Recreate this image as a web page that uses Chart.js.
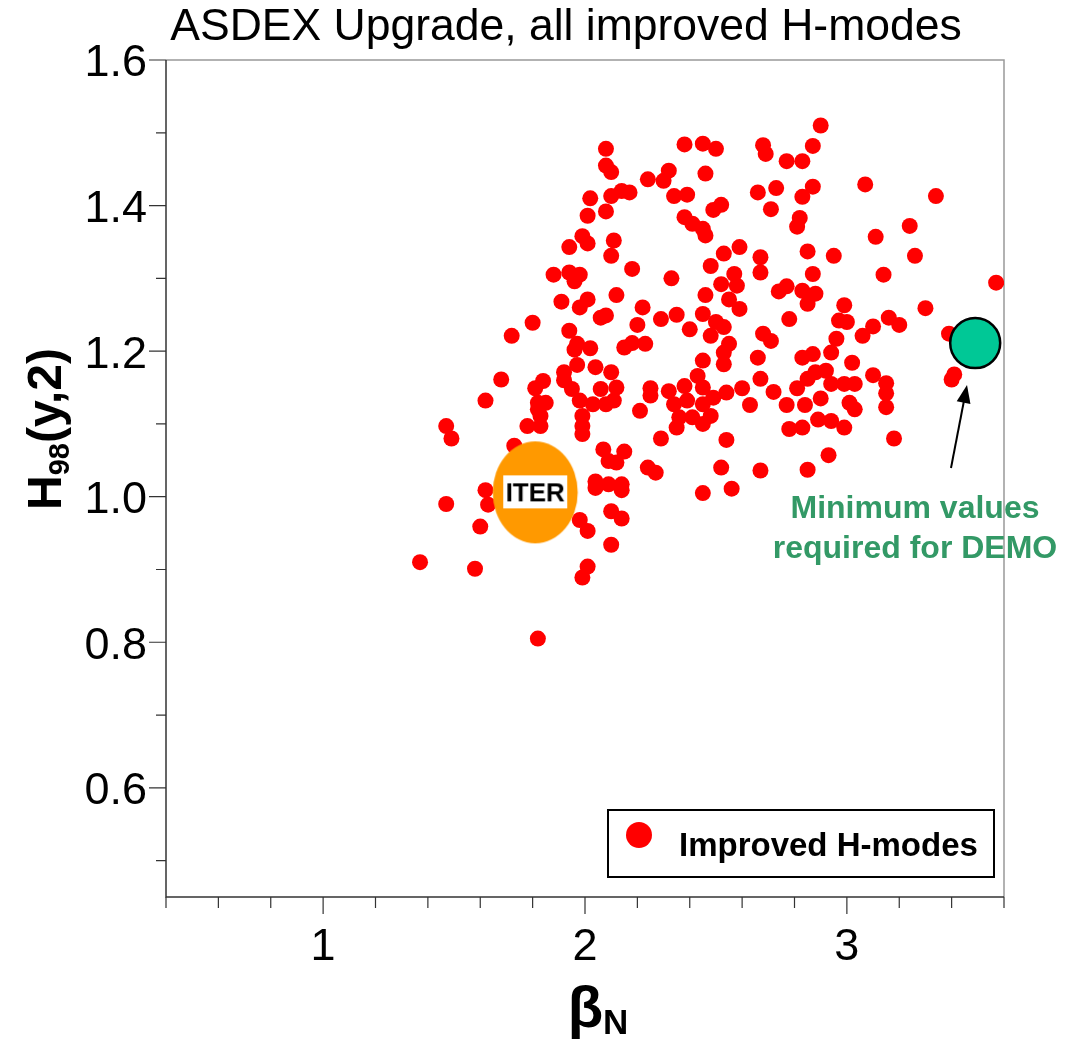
<!DOCTYPE HTML>
<html>
<head>
    <meta charset="utf-8">
    <title>ASDEX Upgrade, all improved H-modes</title>
    <script src="https://cdn.jsdelivr.net/npm/chart.js"></script>
    <style>
        body { margin: 0; background: #fff; }
        canvas { display: block; }
    </style>
</head>
<body>
    <canvas id="chart" width="1066" height="1043"></canvas>
    <script>
        // improved H-mode discharges
        const betaN = [
            1.80, 1.72, 1.68, 1.81, 1.62, 1.82, 1.82, 1.78, 1.83, 1.47,
            1.49, 1.73, 1.62, 1.63, 1.47, 1.60, 1.37, 1.58, 1.82, 1.83,
            2.06, 2.08, 2.20, 2.29, 2.35, 2.40, 1.94, 1.97, 2.02, 1.96,
            2.15, 2.18, 2.23, 1.97, 2.04, 2.10, 1.92, 1.92, 1.84, 1.95,
            2.06, 2.12, 2.25, 2.25, 2.32, 2.38, 2.43, 1.85, 1.98, 2.03,
            2.08, 2.11, 2.21, 2.34, 2.39, 2.45, 1.99, 2.36, 2.41, 1.99,
            2.35, 1.99, 2.29, 2.07, 2.15, 2.09, 2.12, 2.24, 2.27, 2.04,
            2.04, 2.09, 2.14, 2.14, 2.10, 2.14, 1.98, 2.01, 2.10, 2.01,
            1.99, 2.08, 2.08, 2.10, 2.38, 2.32, 2.30, 2.24, 2.02, 2.10,
            2.14, 2.17, 2.34, 2.39, 2.08, 2.01, 2.38, 2.41, 1.99, 2.01,
            1.94, 2.11, 2.10, 2.18, 1.88, 1.94, 1.98, 1.96, 2.33, 2.12,
            1.91, 2.01, 1.98, 2.22, 2.45, 2.50, 2.90, 2.68, 2.69, 2.77,
            2.83, 2.87, 2.46, 2.66, 2.73, 2.87, 2.83, 2.71, 2.52, 2.49,
            2.82, 2.81, 2.45, 2.46, 2.59, 2.53, 2.48, 2.67, 2.67, 2.85,
            2.95, 2.87, 2.57, 2.58, 2.52, 2.46, 2.55, 2.74, 2.77, 2.83,
            2.88, 2.85, 2.99, 2.59, 2.45, 2.50, 2.53, 2.48, 2.55, 2.53,
            2.53, 2.45, 2.78, 2.97, 3.00, 2.68, 2.71, 2.96, 2.94, 2.66,
            2.83, 2.87, 3.02, 2.67, 2.88, 2.92, 2.85, 2.45, 2.49, 2.54,
            2.60, 2.72, 2.81, 2.94, 2.99, 3.03, 2.63, 2.77, 2.84, 2.90,
            3.01, 3.03, 2.48, 2.45, 2.89, 2.94, 2.99, 2.78, 2.83, 2.54,
            2.93, 2.52, 2.67, 2.85, 2.56, 2.45, 3.07, 3.34, 3.24, 3.11,
            3.26, 3.14, 3.57, 3.30, 3.16, 3.20, 3.10, 3.06, 3.39, 3.10,
            3.15, 3.15, 3.15, 3.41, 3.40, 3.18
        ];
        const h98 = [
            1.239, 1.221, 1.161, 1.149, 1.132, 1.129, 1.120, 1.097, 1.097, 1.097,
            1.080, 1.070, 1.009, 0.989, 0.990, 0.959, 0.910, 0.901, 0.805, 1.111,
            1.246, 1.249, 1.236, 1.244, 1.250, 1.230, 1.228, 1.210, 1.204, 1.202,
            1.205, 1.211, 1.210, 1.181, 1.178, 1.171, 1.171, 1.160, 1.159, 1.148,
            1.148, 1.150, 1.149, 1.139, 1.145, 1.152, 1.166, 1.129, 1.132, 1.127,
            1.127, 1.132, 1.118, 1.127, 1.132, 1.127, 1.111, 1.109, 1.109, 1.097,
            1.095, 1.086, 1.080, 1.065, 1.062, 1.049, 1.047, 1.040, 1.033, 1.021,
            1.012, 1.017, 1.017, 1.009, 0.980, 0.970, 0.968, 0.953, 0.934, 0.904,
            0.889, 1.478, 1.455, 1.446, 1.484, 1.448, 1.434, 1.436, 1.410, 1.413,
            1.420, 1.418, 1.413, 1.415, 1.392, 1.386, 1.384, 1.375, 1.358, 1.348,
            1.343, 1.352, 1.331, 1.313, 1.305, 1.308, 1.305, 1.296, 1.300, 1.277,
            1.268, 1.271, 1.260, 1.260, 1.485, 1.478, 1.510, 1.483, 1.471, 1.461,
            1.461, 1.482, 1.444, 1.418, 1.424, 1.426, 1.412, 1.395, 1.401, 1.394,
            1.383, 1.371, 1.368, 1.359, 1.343, 1.334, 1.317, 1.329, 1.308, 1.337,
            1.331, 1.306, 1.306, 1.290, 1.292, 1.277, 1.271, 1.282, 1.289, 1.283,
            1.279, 1.265, 1.263, 1.258, 1.251, 1.240, 1.233, 1.221, 1.210, 1.198,
            1.182, 1.187, 1.244, 1.242, 1.240, 1.224, 1.214, 1.217, 1.198, 1.191,
            1.191, 1.196, 1.184, 1.162, 1.171, 1.173, 1.162, 1.150, 1.136, 1.143,
            1.149, 1.144, 1.149, 1.155, 1.155, 1.155, 1.126, 1.126, 1.126, 1.135,
            1.129, 1.120, 1.111, 1.100, 1.106, 1.104, 1.095, 1.093, 1.095, 1.078,
            1.057, 1.040, 1.036, 1.037, 1.011, 1.005, 1.429, 1.413, 1.372, 1.357,
            1.331, 1.305, 1.294, 1.259, 1.246, 1.236, 1.234, 1.221, 1.224, 1.167,
            1.156, 1.142, 1.123, 1.168, 1.161, 1.080
        ];
        const iterPoint = { x: 1.81, y: 1.006 };
        const demoPoint = { x: 3.49, y: 1.211 };
        const xTickLabels = [1, 2, 3];
        const yTickLabels = [0.6, 0.8, 1.0, 1.2, 1.4, 1.6];

        const FONT = '"Liberation Sans", Arial, Helvetica, sans-serif';

        // orange ITER ellipse with its boxed label, used as a point style
        const iterMark = document.createElement('canvas');
        iterMark.width = 88;
        iterMark.height = 104;
        (() => {
            const c = iterMark.getContext('2d');
            c.fillStyle = '#ff9900';
            c.beginPath();
            c.ellipse(44, 52, 42.5, 51, 0, 0, Math.PI * 2);
            c.fill();
            c.fillStyle = '#fff';
            c.fillRect(12, 35, 64, 33);
            c.fillStyle = '#000';
            c.font = 'bold 26px ' + FONT;
            c.textAlign = 'center';
            c.textBaseline = 'alphabetic';
            c.fillText('ITER', 44, 61);
        })();

        const decorations = {
            id: 'decorations',
            beforeDatasetsDraw(chart) {
                const { ctx, chartArea: a, scales } = chart;
                ctx.save();
                ctx.lineWidth = 1.5;
                ctx.strokeStyle = '#999';
                ctx.beginPath();
                ctx.moveTo(a.left, a.top);
                ctx.lineTo(a.right, a.top);
                ctx.lineTo(a.right, a.bottom);
                ctx.stroke();
                ctx.strokeStyle = '#333';
                ctx.beginPath();
                ctx.moveTo(a.left, a.top);
                ctx.lineTo(a.left, a.bottom);
                ctx.lineTo(a.right, a.bottom);
                ctx.stroke();

                ctx.lineWidth = 1.2;
                ctx.beginPath();
                for (let i = 5; i <= 16; i++) {
                    const y = scales.y.getPixelForValue(i / 10);
                    const len = i % 2 === 0 ? 17 : 10;
                    ctx.moveTo(a.left, y);
                    ctx.lineTo(a.left - len, y);
                }
                for (let i = 2; i <= 18; i++) {
                    const x = scales.x.getPixelForValue(i / 5);
                    const len = i % 5 === 0 ? 17 : 11;
                    ctx.moveTo(x, a.bottom);
                    ctx.lineTo(x, a.bottom + len);
                }
                ctx.stroke();
                ctx.restore();
            },
            afterDraw(chart) {
                const { ctx } = chart;
                ctx.save();
                ctx.fillStyle = '#000';
                ctx.textBaseline = 'alphabetic';

                // title
                ctx.font = '44.5px ' + FONT;
                ctx.textAlign = 'center';
                ctx.fillText('ASDEX Upgrade, all improved H-modes', 566, 40);

                // y axis title: H98(y,2)
                ctx.save();
                ctx.translate(61, 429);
                ctx.rotate(-Math.PI / 2);
                ctx.textAlign = 'left';
                const parts = [['H', 'bold 48px ', 0], ['98', 'bold 29px ', 8], ['(y,2)', 'bold 48px ', 0]];
                let w = 0;
                parts.forEach(p => { ctx.font = p[1] + FONT; w += ctx.measureText(p[0]).width; });
                let x = -w / 2;
                parts.forEach(p => {
                    ctx.font = p[1] + FONT;
                    ctx.fillText(p[0], x, p[2]);
                    x += ctx.measureText(p[0]).width;
                });
                ctx.restore();

                // x axis title: beta_N
                ctx.textAlign = 'left';
                ctx.font = 'bold 58px ' + FONT;
                const bw = ctx.measureText('\u03b2').width;
                ctx.font = 'bold 35px ' + FONT;
                const nw = ctx.measureText('N').width;
                const bx = 598 - (bw + nw) / 2;
                ctx.font = 'bold 58px ' + FONT;
                ctx.fillText('\u03b2', bx, 1027);
                ctx.font = 'bold 35px ' + FONT;
                ctx.fillText('N', bx + bw, 1034);

                // DEMO note and arrow
                ctx.fillStyle = '#339966';
                ctx.font = 'bold 32px ' + FONT;
                ctx.textAlign = 'center';
                ctx.fillText('Minimum values', 915, 518);
                ctx.fillText('required for DEMO', 915, 558);

                ctx.strokeStyle = '#000';
                ctx.fillStyle = '#000';
                ctx.lineWidth = 2;
                const tail = [951, 468], tip = [967, 385];
                const ang = Math.atan2(tip[1] - tail[1], tip[0] - tail[0]);
                ctx.beginPath();
                ctx.moveTo(tail[0], tail[1]);
                ctx.lineTo(tip[0] - 14 * Math.cos(ang), tip[1] - 14 * Math.sin(ang));
                ctx.stroke();
                ctx.beginPath();
                ctx.moveTo(tip[0], tip[1]);
                ctx.lineTo(tip[0] - 18 * Math.cos(ang) + 7 * Math.sin(ang), tip[1] - 18 * Math.sin(ang) - 7 * Math.cos(ang));
                ctx.lineTo(tip[0] - 18 * Math.cos(ang) - 7 * Math.sin(ang), tip[1] - 18 * Math.sin(ang) + 7 * Math.cos(ang));
                ctx.closePath();
                ctx.fill();

                // legend box
                const ds = chart.data.datasets[0];
                ctx.fillStyle = '#fff';
                ctx.fillRect(608, 810, 386, 67);
                ctx.strokeStyle = '#000';
                ctx.lineWidth = 2;
                ctx.strokeRect(608, 810, 386, 67);
                ctx.fillStyle = ds.pointBackgroundColor;
                ctx.beginPath();
                ctx.arc(639, 835, 13, 0, Math.PI * 2);
                ctx.fill();
                ctx.fillStyle = '#000';
                ctx.font = 'bold 33px ' + FONT;
                ctx.textAlign = 'left';
                ctx.fillText(ds.label, 679, 856);
                ctx.restore();
            }
        };

        new Chart(document.getElementById('chart').getContext('2d'), {
            type: 'scatter',
            data: {
                datasets: [{
                    label: 'Improved H-modes',
                    data: betaN.map((b, i) => ({ x: b, y: h98[i] })),
                    pointRadius: 8,
                    pointHoverRadius: 8,
                    pointBorderWidth: 0,
                    pointBackgroundColor: '#ff0000',
                    order: 2
                }, {
                    label: 'ITER',
                    data: [iterPoint],
                    pointStyle: iterMark,
                    order: 1
                }, {
                    label: 'DEMO',
                    data: [demoPoint],
                    pointRadius: 25,
                    pointHoverRadius: 25,
                    pointBackgroundColor: '#00c896',
                    pointBorderColor: '#000',
                    pointBorderWidth: 2.5,
                    order: 0
                }]
            },
            options: {
                responsive: false,
                animation: false,
                events: [],
                layout: { padding: { left: 0, right: 62, top: 60, bottom: 0 } },
                plugins: {
                    legend: { display: false },
                    title: { display: false },
                    tooltip: { enabled: false }
                },
                scales: {
                    x: {
                        type: 'linear',
                        min: 0.4,
                        max: 3.6,
                        grid: { display: false },
                        border: { display: false },
                        afterBuildTicks: s => { s.ticks = xTickLabels.map(v => ({ value: v })); },
                        afterFit: s => { s.height = 146; },
                        ticks: {
                            color: '#000',
                            font: { family: FONT, size: 45 },
                            padding: 16,
                            maxRotation: 0,
                            autoSkip: false,
                            callback: v => String(v)
                        }
                    },
                    y: {
                        min: 0.45,
                        max: 1.6,
                        grid: { display: false },
                        border: { display: false },
                        afterBuildTicks: s => { s.ticks = yTickLabels.map(v => ({ value: v })); },
                        afterFit: s => { s.width = 166; },
                        ticks: {
                            color: '#000',
                            font: { family: FONT, size: 45 },
                            padding: 11,
                            labelOffset: 4,
                            autoSkip: false,
                            callback: v => v.toFixed(1)
                        }
                    }
                }
            },
            plugins: [decorations]
        });
    </script>
</body>
</html>
